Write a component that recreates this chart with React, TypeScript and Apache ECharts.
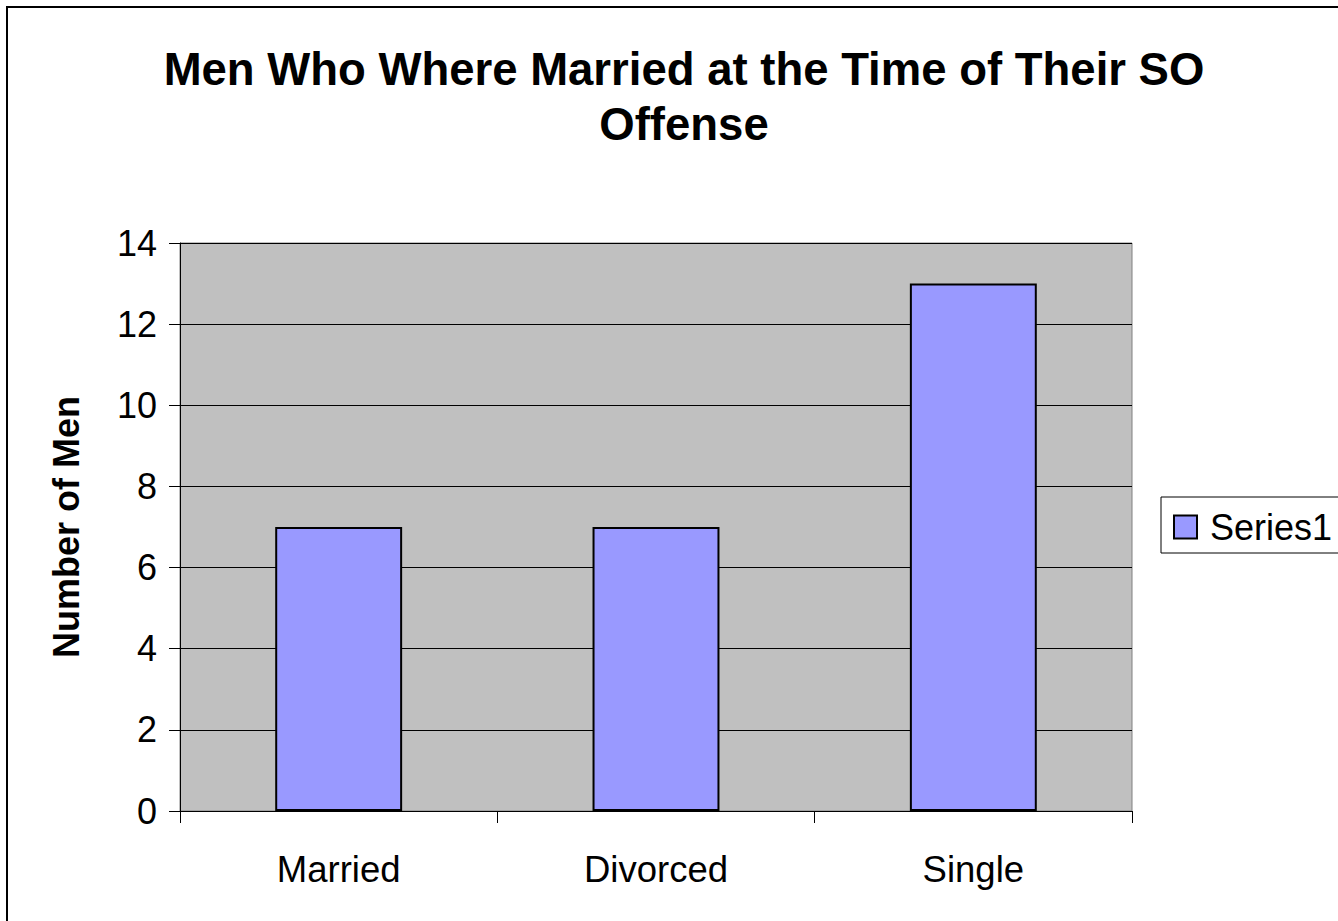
import React, { useEffect, useRef } from "react";
import * as echarts from "echarts";

const categories = ["Married", "Divorced", "Single"];
const seriesName = "Series1";
const values = [7, 7, 13];
const titleLines = ["Men Who Where Married at the Time of Their SO", "Offense"];
const yAxisName = "Number of Men";

const FONT = "'Liberation Sans', Arial, sans-serif";

export default function App() {
  const ref = useRef<HTMLDivElement>(null);
  useEffect(() => {
    document.body.style.margin = "0";
    const chart = echarts.init(ref.current!, null, { renderer: "svg" });
    chart.setOption({
      animation: false,
      backgroundColor: "#ffffff",
      textStyle: { fontFamily: FONT },
      title: {
        text: titleLines.join("\n"),
        left: 679,
        top: 37,
        textAlign: "center",
        textStyle: {
          fontFamily: FONT,
          fontSize: 45.5,
          fontWeight: "bold",
          color: "#000",
          lineHeight: 55,
        },
      },
      graphic: [
        {
          type: "rect",
          shape: { x: 7, y: 7, width: 1400, height: 1000 },
          style: { fill: "none", stroke: "#000", lineWidth: 2 },
          silent: true,
          z: -1,
        },
      ],
      legend: {
        left: 1161,
        top: 497,
        orient: "vertical",
        padding: [12, 12, 8, 12],
        borderColor: "#000",
        borderWidth: 1,
        itemWidth: 23,
        itemHeight: 23,
        icon: "rect",
        itemStyle: { color: "#9999FF", borderColor: "#000", borderWidth: 2 },
        textStyle: {
          fontFamily: FONT,
          fontSize: 36,
          color: "#000",
          padding: [0, 0, 0, 8],
        },
        data: [seriesName],
      },
      grid: {
        left: 180,
        top: 243,
        width: 952,
        height: 568,
        show: true,
        backgroundColor: "#C0C0C0",
        borderColor: "#808080",
        borderWidth: 1,
      },
      xAxis: {
        type: "category",
        data: categories,
        boundaryGap: true,
        axisLine: { show: true, lineStyle: { color: "#000", width: 1 } },
        axisTick: {
          show: true,
          alignWithLabel: false,
          length: 12,
          lineStyle: { color: "#000" },
        },
        axisLabel: {
          fontFamily: FONT,
          fontSize: 36.5,
          color: "#000",
          margin: 40,
        },
      },
      yAxis: {
        type: "value",
        min: 0,
        max: 14,
        interval: 2,
        name: yAxisName,
        nameLocation: "middle",
        nameRotate: 90,
        nameGap: 96,
        nameTextStyle: {
          fontFamily: FONT,
          fontSize: 36,
          fontWeight: "bold",
          color: "#000",
        },
        axisLine: { show: true, lineStyle: { color: "#000", width: 1 } },
        axisTick: { show: true, length: 11, lineStyle: { color: "#000" } },
        axisLabel: {
          fontFamily: FONT,
          fontSize: 36,
          color: "#000",
          margin: 23,
        },
        splitLine: { show: true, lineStyle: { color: "#000", width: 1 } },
      },
      series: [
        {
          name: seriesName,
          type: "bar",
          data: values,
          barCategoryGap: "60%",
          itemStyle: { color: "#9999FF", borderColor: "#000", borderWidth: 2 },
        },
      ],
    });
    return () => chart.dispose();
  }, []);
  return (
    <div
      ref={ref}
      style={{ position: "fixed", left: 0, top: 0, width: 1338, height: 921 }}
    />
  );
}
